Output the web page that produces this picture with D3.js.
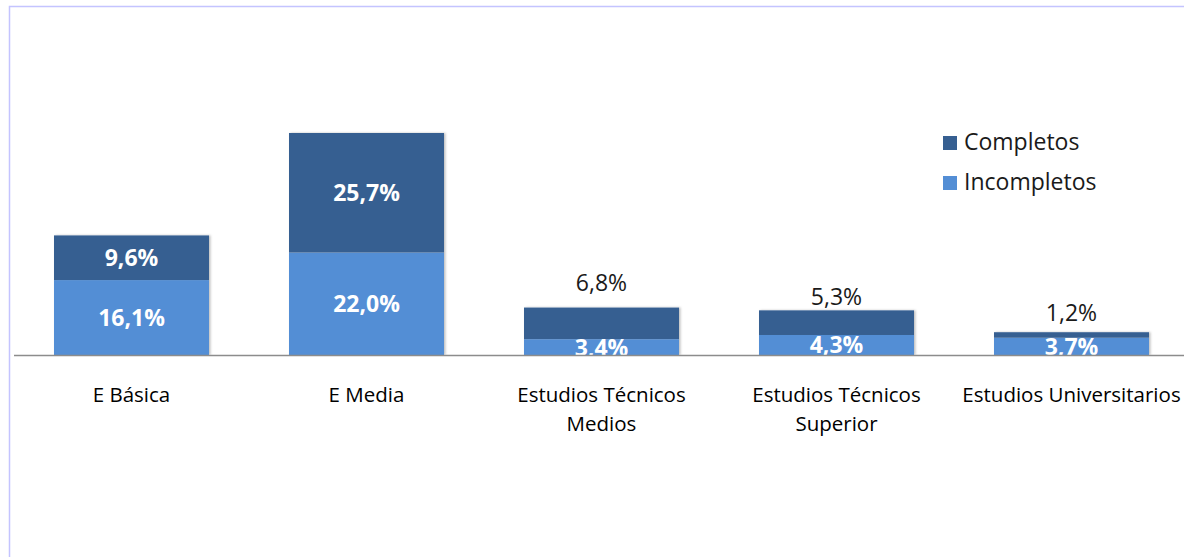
<!DOCTYPE html>
<html>
<head>
<meta charset="utf-8">
<script src="https://cdn.jsdelivr.net/npm/d3@7"></script>
<style>
  body { margin: 0; background: #fff; }
  svg text { font-family: "Open Sans", Lato, sans-serif; }
</style>
</head>
<body>
<script>
(function(){
  //chart data
  const categories = [["E Básica"], ["E Media"], ["Estudios Técnicos", "Medios"], ["Estudios Técnicos", "Superior"], ["Estudios Universitarios"]];
  const incompletos = [16.1, 22.0, 3.4, 4.3, 3.7];
  const completos = [9.6, 25.7, 6.8, 5.3, 1.2];
  const seriesNames = ["Completos", "Incompletos"];
  const colors = {Completos: "#365f91", Incompletos: "#538ed5"};

  const width = 1184, height = 557;
  const baseY = 355, plotLeft = 14, plotRight = 1189;
  //gap above bar for labels placed outside (hand placed in the original)
  const outsideGap = {2: 17, 3: 5, 4: 11};

  const svg = d3.select("body").append("svg")
    .attr("width", width)
    .attr("height", height);

  //frame border
  svg.append("path")
    .attr("d", "M9.5," + height + " L9.5,6.5 L" + width + ",6.5")
    .attr("fill", "none")
    .attr("stroke", "#c4c4ff")
    .attr("stroke-width", 1.5);

  const x = d3.scaleBand()
    .domain(d3.range(categories.length))
    .range([plotLeft, plotRight])
    .paddingInner(80 / 235)
    .paddingOuter(40 / 235);

  const y = d3.scaleLinear()
    .domain([0, 47.7])
    .range([baseY, 133]);

  //soft shadow like the original bars
  const defs = svg.append("defs");
  const f = defs.append("filter").attr("id", "shadow").attr("x", "-5%").attr("width", "115%");
  f.append("feDropShadow").attr("dx", 1.5).attr("dy", 0).attr("stdDeviation", 1)
    .attr("flood-color", "#000").attr("flood-opacity", 0.25);
  defs.append("clipPath").attr("id", "plotclip")
    .append("rect").attr("x", 0).attr("y", 0).attr("width", width).attr("height", baseY);

  const stackData = categories.map((c, i) => ({i: i, Incompletos: incompletos[i], Completos: completos[i]}));
  const stack = d3.stack().keys(["Incompletos", "Completos"])(stackData);

  const g = svg.append("g").attr("clip-path", "url(#plotclip)");

  g.selectAll(".bargroup")
    .data(d3.range(categories.length))
    .enter().append("rect")
    .attr("x", i => x(i))
    .attr("width", x.bandwidth())
    .attr("y", i => y(incompletos[i] + completos[i]))
    .attr("height", i => baseY - y(incompletos[i] + completos[i]))
    .attr("fill", "#fff")
    .attr("filter", "url(#shadow)");

  stack.forEach(layer => {
    g.selectAll(".bar-" + layer.key)
      .data(layer)
      .enter().append("rect")
      .attr("x", d => x(d.data.i))
      .attr("width", x.bandwidth())
      .attr("y", d => y(d[1]))
      .attr("height", d => y(d[0]) - y(d[1]))
      .attr("fill", colors[layer.key]);
  });

  //value labels
  const fmt = v => v.toFixed(1).replace(".", ",") + "%";
  const isOut = (key, i) => key == "Completos" && i >= 2;
  stack.forEach(layer => {
    g.selectAll(".lab-" + layer.key)
      .data(layer)
      .enter().append("text")
      .attr("x", d => x(d.data.i) + x.bandwidth() / 2)
      .attr("y", d => isOut(layer.key, d.data.i) ? y(d[1]) - outsideGap[d.data.i] : (y(d[0]) + y(d[1])) / 2 + 8.5)
      .attr("text-anchor", "middle")
      .attr("font-size", 23)
      .attr("font-weight", d => isOut(layer.key, d.data.i) ? "normal" : "bold")
      .attr("fill", d => isOut(layer.key, d.data.i) ? "#1a1a1a" : "#fff")
      .text(d => fmt(d.data[layer.key]));
  });

  //category axis
  svg.append("line")
    .attr("x1", plotLeft).attr("x2", width)
    .attr("y1", baseY + 0.5).attr("y2", baseY + 0.5)
    .attr("stroke", "#8c8c8c")
    .attr("stroke-width", 1.5);

  const cats = svg.selectAll(".cat")
    .data(categories)
    .enter().append("text")
    .attr("text-anchor", "middle")
    .attr("font-size", 20.5)
    .attr("fill", "#000")
    .attr("x", (d, i) => x(i) + x.bandwidth() / 2)
    .attr("y", 402);
  cats.selectAll("tspan")
    .data(d => d)
    .enter().append("tspan")
    .attr("x", function(){ return d3.select(this.parentNode).attr("x"); })
    .attr("dy", (d, j) => j == 0 ? 0 : 29)
    .text(d => d);

  //legend
  const legend = svg.append("g").attr("transform", "translate(943,136)");
  seriesNames.forEach((s, j) => {
    legend.append("rect")
      .attr("x", 0).attr("y", j * 40)
      .attr("width", 14).attr("height", 14)
      .attr("fill", colors[s]);
    legend.append("text")
      .attr("x", 21).attr("y", j * 40 + 14)
      .attr("font-size", 23)
      .attr("fill", "#1a1a1a")
      .text(s);
  });
})();
</script>
</body>
</html>
